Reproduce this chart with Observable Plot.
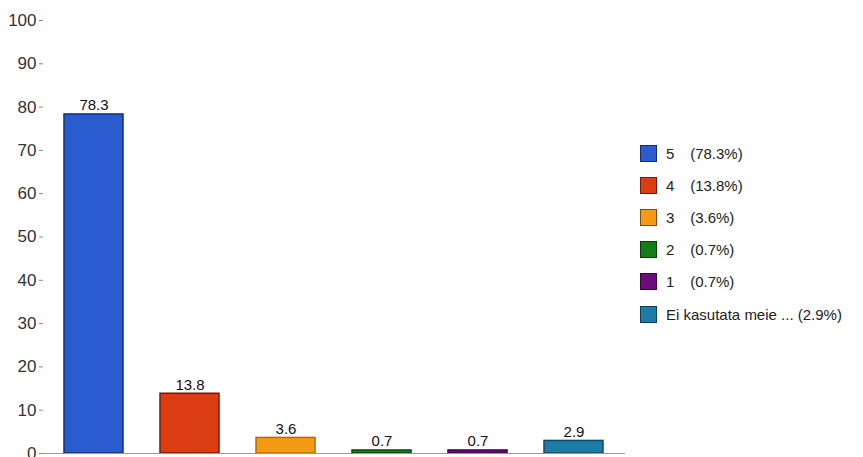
<!DOCTYPE html>
<html><head><meta charset="utf-8">
<script src="https://cdn.jsdelivr.net/npm/d3@7"></script>
<script src="https://cdn.jsdelivr.net/npm/@observablehq/plot@0.6"></script>
<style>
body{margin:0;background:#fff;font-family:"Liberation Sans",Arial,sans-serif;}
#wrap{position:relative;width:863px;height:457px;}
#legend{position:absolute;left:640px;top:137px;font-size:15px;color:#222;}
.row{display:flex;align-items:center;height:32.2px;}
.sw{width:17px;height:17px;margin-right:9px;border:1px solid rgba(0,0,0,0.5);box-sizing:border-box;}
.cat{display:inline-block;min-width:20px;}
</style></head>
<body><div id="wrap"><div id="chart"></div><div id="legend"></div></div>
<script>
const categories = ["5", "4", "3", "2", "1", "Ei kasutata meie ..."];
const values = [78.3, 13.8, 3.6, 0.7, 0.7, 2.9];
const colors = ["#2a5ccf", "#dc3c12", "#f59a15", "#137d16", "#6c0b7c", "#1c7ca6"];
const strokes = ["#10307a", "#7a1a05", "#b86a00", "#0a4a0a", "#3a053f", "#0e4a66"];
const yTicks = [0,10,20,30,40,50,60,70,80,90,100];

const data = categories.map((c,i)=>({cat:c, value:values[i], color:colors[i], stroke:strokes[i]}));

const chart = Plot.plot({
  width: 863, height: 457,
  marginLeft: 43, marginRight: 238, marginTop: 20, marginBottom: 4,
  style:{fontFamily:"'Liberation Sans', Arial, sans-serif", background:"#fff"},
  x:{domain:categories, paddingInner:0.383, paddingOuter:0.2, axis:null},
  y:{domain:[0,100], ticks:yTicks, label:null},
  marks:[
    Plot.barY(data,{x:"cat", y:"value", fill:"color", stroke:"stroke", strokeWidth:1.5}),
    Plot.text(data,{x:"cat", y:"value", text:d=>d.value.toFixed(1), dy:-9, fontSize:15, fill:"#111"}),
    Plot.axisY({ticks:yTicks, tickSize:4, fontSize:17, tickPadding:3, stroke:"#888", fill:"#333", label:null}),
    Plot.ruleX([0],{stroke:"#999", frameAnchor:"left"}),
    Plot.ruleY([0],{stroke:"#999"})
  ]
});
document.getElementById("chart").appendChild(chart);

const leg = document.getElementById("legend");
data.forEach(d=>{
  const r=document.createElement("div"); r.className="row";
  const s=document.createElement("div"); s.className="sw"; s.style.background=d.color;
  const c=document.createElement("span"); c.className="cat"; c.textContent=d.cat;
  const t=document.createElement("span"); t.textContent = "\u00a0(" + d.value.toFixed(1) + "%)";
  r.appendChild(s); r.appendChild(c); r.appendChild(t); leg.appendChild(r);
});
</script></body></html>
